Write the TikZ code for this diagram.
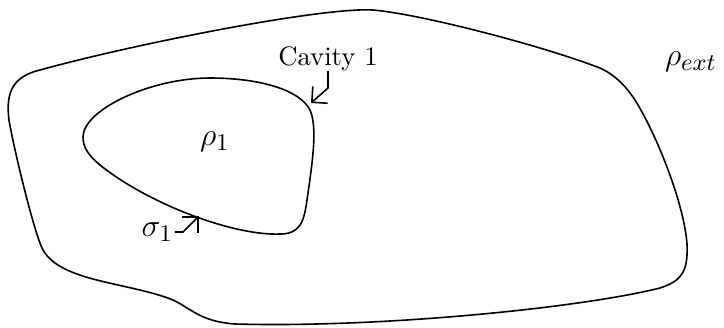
\documentclass[tikz,border=0pt]{standalone}
\usetikzlibrary{arrows.meta}
\begin{document}
\begin{tikzpicture}[x=0.375pt,y=-0.375pt,
  curve/.style={line width=0.6pt,black},
  pointer/.style={line width=0.6pt,-{Straight Barb[length=4.2pt,width=8.4pt,line width=0.6pt]}},
  bigmath/.style={font=\fontsize{13}{15}\selectfont,inner sep=0.5pt},
  cavlabel/.style={font=\fontsize{10}{12}\selectfont,inner sep=0pt}]
\useasboundingbox (0,0) rectangle (724,327);
% outer region
\draw[curve] (40,70)
  .. controls (130,45) and (320,7) .. (373,10)
  .. controls (420,14) and (540,45) .. (600,68)
  .. controls (615,75) and (625,85) .. (635,100)
  .. controls (660,140) and (690,220) .. (687,255)
  .. controls (686,275) and (678,282) .. (660,288)
  .. controls (580,308) and (380,328) .. (235,324)
  .. controls (195,321) and (190,305) .. (165,297)
  .. controls (120,282) and (60,280) .. (43,250)
  .. controls (35,236) and (14,150) .. (9,120)
  .. controls (5,90) and (15,76) .. cycle;
% cavity
\draw[curve] (83,137)
  .. controls (83,110) and (150,78) .. (210,78)
  .. controls (260,78) and (300,90) .. (310,110)
  .. controls (318,128) and (312,165) .. (307,200)
  .. controls (304,222) and (300,234) .. (280,234)
  .. controls (235,236) and (150,205) .. (100,165)
  .. controls (88,155) and (83,147) .. cycle;
% labels
\node[bigmath] (rho1) at (215,142) {$\rho_1$};
\node[bigmath] (rhoext) at (691,62) {$\rho_{ext}$};
\node[cavlabel,anchor=south] (cav) at (328,71) {Cavity 1};
\node[bigmath,anchor=east] (sig) at (175,232) {$\sigma_1$};
\coordinate (cbend) at (328,88);
\coordinate (ctip) at (311,103);
\coordinate (sbend) at (183,232);
\coordinate (stip) at (199,216);
\draw[pointer] (cav.south) -- (cbend) -- (ctip);
\draw[pointer] (sig.east) -- (sbend) -- (stip);
\end{tikzpicture}
\end{document}
